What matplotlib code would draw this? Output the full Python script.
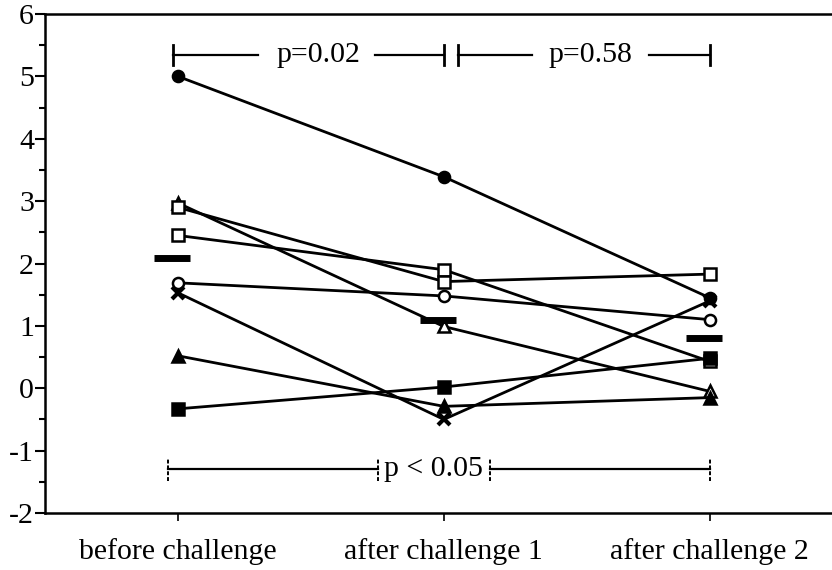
import matplotlib
matplotlib.use("Agg")
import matplotlib.pyplot as plt
import numpy as np

plt.rcParams["font.family"] = ["Liberation Serif", "DejaVu Serif"]
plt.rcParams["axes.unicode_minus"] = False

# Data (one row per subject)
categories = ["before challenge", "after challenge 1", "after challenge 2"]
filled_circle = [5.0, 3.39, 1.45]
open_triangle = [2.97, 0.99, -0.05]
open_square_a = [2.45, 1.90, 0.43]
open_square_b = [2.90, 1.71, 1.83]
open_circle = [1.69, 1.48, 1.10]
cross = [1.53, -0.50, 1.40]
filled_triangle = [0.52, -0.29, -0.15]
filled_square = [-0.33, 0.02, 0.48]

subjects = [
    (filled_circle, "o", "black"),
    (open_triangle, "^", "white"),
    (open_square_a, "s", "white"),
    (open_square_b, "s", "white"),
    (open_circle, "o", "white"),
    (cross, "x", "black"),
    (filled_triangle, "^", "black"),
    (filled_square, "s", "black"),
]

# significance brackets
top_p = ["p=0.02", "p=0.58"]
bottom_p = "p < 0.05"

x = np.arange(len(categories))

fig = plt.figure(figsize=(8.32, 5.70), dpi=100)
ax = fig.add_axes([45 / 832, 1 - 513 / 570, 1 - 45 / 832, 499 / 570])

for values, marker, face in subjects:
    ax.plot(x, values, "-", color="black", linewidth=2.0, zorder=2)
    if marker == "x":
        ax.plot(x, values, linestyle="none", marker="x", markersize=8,
                markeredgewidth=3, color="black", zorder=3)
    else:
        ax.plot(x, values, linestyle="none", marker=marker, markersize=8,
                markerfacecolor=face, markeredgecolor="black",
                markeredgewidth=1.8, zorder=3)

# group means
all_values = np.array([s[0] for s in subjects])
means = all_values.mean(axis=0)
ax.hlines(means, x - 0.09, x + 0.045, color="black", linewidth=5, zorder=4)

# top brackets
y_top = 5.35
ax.plot([-0.02, 0.30], [y_top, y_top], color="black", lw=1.6)
ax.plot([0.74, 1.0], [y_top, y_top], color="black", lw=1.6)
ax.plot([1.053, 1.33], [y_top, y_top], color="black", lw=1.6)
ax.plot([1.77, 2.0], [y_top, y_top], color="black", lw=1.6)
for xe in [-0.02, 1.0, 1.053, 2.0]:
    ax.plot([xe, xe], [y_top - 0.16, y_top + 0.16], color="black", lw=2)
ax.text(0.53, y_top, top_p[0], ha="center", va="center", fontsize=21.5)
ax.text(1.55, y_top, top_p[1], ha="center", va="center", fontsize=21.5)

# bottom bracket
y_bot = -1.3
ax.plot([-0.038, 0.752], [y_bot, y_bot], color="black", lw=1.6)
ax.plot([1.173, 2.0], [y_bot, y_bot], color="black", lw=1.6)
for xe in [-0.038, 0.752, 1.173, 2.0]:
    ax.plot([xe, xe], [y_bot - 0.18, y_bot + 0.18], color="black", lw=1.4,
            linestyle=(0, (2, 1)))
ax.text(0.962, y_bot, bottom_p, ha="center", va="center", fontsize=21.5)

ax.set_xlim(-0.5, 2.46)
ax.set_ylim(-2, 6)
ax.set_xticks(x)
ax.set_xticklabels(categories)
ax.set_yticks(np.arange(-2, 7, 1))
ax.set_yticks(np.arange(-1.5, 6, 1), minor=True)

ax.spines["right"].set_visible(False)
for side in ["left", "top", "bottom"]:
    ax.spines[side].set_linewidth(1.8)

ax.tick_params(axis="y", which="major", direction="out", length=7, width=1.5,
               labelsize=21.5, pad=1)
ax.tick_params(axis="y", which="minor", direction="out", length=4, width=1.5)
ax.tick_params(axis="x", direction="out", length=6, width=1.2,
               labelsize=21.5, pad=12)

fig.savefig("out.png", dpi=100)
